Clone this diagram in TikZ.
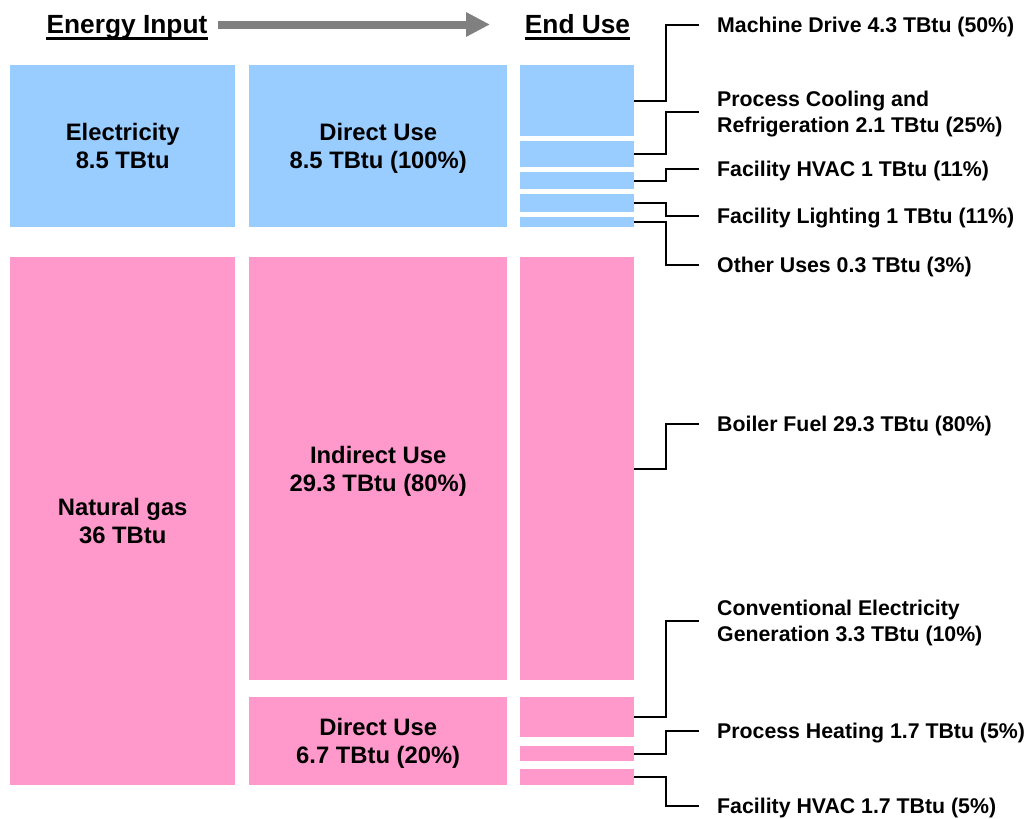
\documentclass[tikz,border=0pt]{standalone}
\usepackage{fontspec}
\setmainfont{Liberation Sans}
\usetikzlibrary{arrows.meta}
\definecolor{elecblue}{HTML}{99CCFF}
\definecolor{gaspink}{HTML}{FF99CC}
\definecolor{arrowgray}{HTML}{808080}
\tikzset{
  bar/.style={anchor=north west,inner sep=0pt,align=center,
    font=\bfseries\fontsize{23.8}{28}\selectfont},
  elecbar/.style={bar,fill=elecblue},
  gasbar/.style={bar,fill=gaspink},
  uselabel/.style={anchor=west,inner sep=0pt,align=left,
    font=\bfseries\fontsize{21.3}{26}\selectfont},
  head/.style={anchor=base,inner sep=0pt,
    font=\bfseries\fontsize{26.3}{30}\selectfont},
  conn/.style={line width=2pt,black},
}

\begin{document}
\begin{tikzpicture}[x=1pt,y=-1pt]
\useasboundingbox (0,0) rectangle (1031,819);

% headings
\node[head] (ein) at (127,34) {Energy Input};
\node[head] (eu) at (577.5,34) {End Use};
\draw[line width=3pt] ([yshift=-4.5pt]ein.base west) -- ([yshift=-4.5pt]ein.base east);
\draw[line width=3pt] ([yshift=-4.5pt]eu.base west) -- ([yshift=-4.5pt]eu.base east);
\coordinate (arrfrom) at (218,24.5);
\coordinate (arrto) at (490,24.5);
\draw[arrowgray,line width=8pt,-{Triangle[length=24pt,width=23pt]}] (arrfrom) -- (arrto);

% energy input (second lines smashed so all blocks sit alike)
\node[elecbar,minimum width=225pt,minimum height=162pt] (elec) at (10,65) {Electricity\\\smash{8.5 TBtu}};
\node[gasbar,minimum width=225pt,minimum height=527.5pt] (gas) at (10,257) {Natural gas\\\smash{36 TBtu}};

% use type
\node[elecbar,minimum width=258pt,minimum height=162pt] (edir) at (249,65) {Direct Use\\\smash{8.5 TBtu (100\%)}};
\node[gasbar,minimum width=258pt,minimum height=423pt] (gind) at (249,257) {Indirect Use\\\smash{29.3 TBtu (80\%)}};
\node[gasbar,minimum width=258pt,minimum height=87.5pt] (gdir) at (249,697) {Direct Use\\\smash{6.7 TBtu (20\%)}};

% end use bars
\node[elecbar,minimum width=114pt,minimum height=71pt] (md) at (520,65) {};
\node[elecbar,minimum width=114pt,minimum height=26pt] (pc) at (520,141) {};
\node[elecbar,minimum width=114pt,minimum height=17pt] (ehv) at (520,172) {};
\node[elecbar,minimum width=114pt,minimum height=18pt] (fl) at (520,194) {};
\node[elecbar,minimum width=114pt,minimum height=10pt] (ou) at (520,217) {};
\node[gasbar,minimum width=114pt,minimum height=423pt] (bf) at (520,257) {};
\node[gasbar,minimum width=114pt,minimum height=40pt] (ce) at (520,697) {};
\node[gasbar,minimum width=114pt,minimum height=15pt] (ph) at (520,746) {};
\node[gasbar,minimum width=114pt,minimum height=15.5pt] (ghv) at (520,769) {};

% end use labels (text sits 2pt below the line)
\node[uselabel] (mdl) at (717,27) {Machine Drive 4.3 TBtu (50\%)};
\node[uselabel] (pcl) at (717,114) {Process Cooling and\\Refrigeration 2.1 TBtu (25\%)};
\node[uselabel] (ehvl) at (717,171) {Facility HVAC 1 TBtu (11\%)};
\node[uselabel] (fll) at (717,218) {Facility Lighting 1 TBtu (11\%)};
\node[uselabel] (oul) at (717,267) {Other Uses 0.3 TBtu (3\%)};
\node[uselabel] (bfl) at (717,426) {Boiler Fuel 29.3 TBtu (80\%)};
\node[uselabel] (cel) at (717,623) {Conventional Electricity\\Generation 3.3 TBtu (10\%)};
\node[uselabel] (phl) at (717,733) {Process Heating 1.7 TBtu (5\%)};
\node[uselabel] (ghvl) at (717,808) {Facility HVAC 1.7 TBtu (5\%)};

% connectors
\foreach \bname in {md,pc,ehv,fl,ou,bf,ce,ph,ghv}
  \draw[conn] (\bname.east) -- ++(32,0) |- ([xshift=-18pt,yshift=2pt]\bname l.west);
\end{tikzpicture}
\end{document}
